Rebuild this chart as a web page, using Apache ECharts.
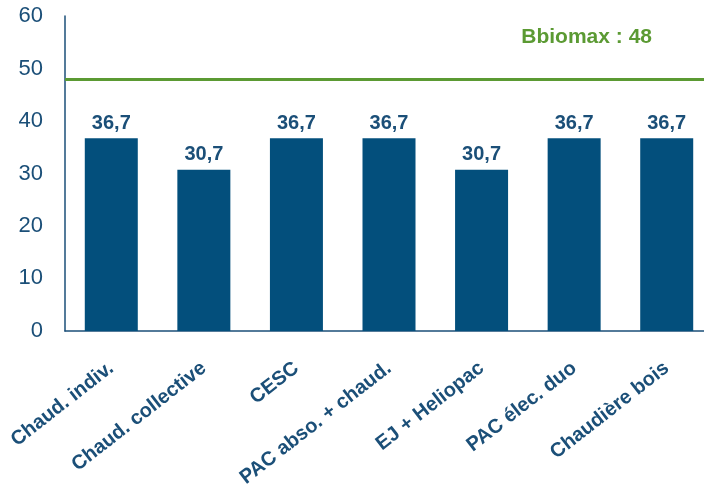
<!DOCTYPE html>
<html>
<head>
<meta charset="utf-8">
<style>
  html, body { margin: 0; padding: 0; background: #ffffff; overflow: hidden; }
  /* the plot area runs a little past the right edge of the window */
  #chart { width: 713px; height: 490px; }
</style>
<script src="https://cdn.jsdelivr.net/npm/echarts@6/dist/echarts.min.js"></script>
</head>
<body>
<div id="chart"></div>
<script>
// Heating systems compared against the Bbiomax threshold
const categories = ['Chaud. indiv.', 'Chaud. collective', 'CESC', 'PAC abso. + chaud.', 'EJ + Heliopac', 'PAC élec. duo', 'Chaudière bois'];
const values = [36.7, 30.7, 36.7, 36.7, 30.7, 36.7, 36.7];
const bbiomax = 48;
const yTicks = { min: 0, max: 60, interval: 10 };

const blue = '#034f7c';
const textBlue = '#1b4f78';
const green = '#5b9a33';
const font = '"Liberation Sans", Arial, Helvetica, sans-serif';

const chart = echarts.init(document.getElementById('chart'));
chart.setOption({
  animation: false,
  grid: { left: 65, right: 0, top: 16, bottom: 159, containLabel: false },
  xAxis: {
    type: 'category',
    data: categories,
    axisLine: { lineStyle: { color: textBlue, width: 1.5 } },
    axisTick: { show: false },
    axisLabel: {
      interval: 0,
      rotate: 38,
      margin: 35,
      color: textBlue,
      fontFamily: font,
      fontWeight: 'bold',
      fontSize: 20
    }
  },
  yAxis: {
    type: 'value',
    min: yTicks.min,
    max: yTicks.max,
    interval: yTicks.interval,
    splitLine: { show: false },
    axisTick: { show: false },
    axisLine: { show: true, lineStyle: { color: textBlue, width: 1.5 } },
    axisLabel: {
      margin: 22,
      color: textBlue,
      fontFamily: font,
      fontSize: 22
    }
  },
  series: [{
    type: 'bar',
    data: values,
    barWidth: 53,
    itemStyle: { color: blue },
    label: {
      show: true,
      position: 'top',
      distance: 5,
      color: textBlue,
      fontFamily: font,
      fontWeight: 'bold',
      fontSize: 20,
      formatter: p => String(p.value).replace('.', ',')
    },
    markLine: {
      silent: true,
      symbol: 'none',
      lineStyle: { color: green, width: 3, type: 'solid' },
      label: {
        show: true,
        position: 'insideEndTop',
        formatter: 'Bbiomax : ' + bbiomax,
        color: green,
        fontFamily: font,
        fontWeight: 'bold',
        fontSize: 21,
        padding: [0, 56, 26, 0]
      },
      data: [{ yAxis: bbiomax }]
    }
  }]
});
</script>
</body>
</html>
